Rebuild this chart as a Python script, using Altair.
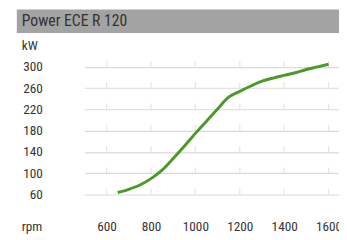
import altair as alt
import pandas as pd

rpm = [650, 700, 750, 800, 850, 900, 950, 1000, 1050, 1100, 1150, 1200, 1250, 1300, 1350, 1400, 1450, 1500, 1550, 1600]
kw = [64, 70, 78, 90, 106, 128, 151, 175, 198, 221, 243, 254, 264, 273, 279, 284, 289, 295, 300, 305]

x_ticks = [600, 800, 1000, 1200, 1400, 1600]
y_ticks = [60, 100, 140, 180, 220, 260, 300]

title_text = "Power ECE R 120"
y_unit = "kW"
x_unit = "rpm"

FONT = "'Roboto Condensed', 'Liberation Sans Narrow', Roboto, sans-serif"
TXT = "#333333"
GRID = "#dadada"

df = pd.DataFrame({"rpm": rpm, "kw": kw})
grid_df = pd.DataFrame([{"rpm": a, "kw": b} for a in x_ticks for b in y_ticks])
one = pd.DataFrame({"a": [0]})

xs = alt.Scale(domain=[500, 1647], nice=False, zero=False)
ys = alt.Scale(domain=[40, 316], nice=False, zero=False)

x_axis = alt.Axis(values=x_ticks, tickCount=20, title=None, grid=False, ticks=False, domain=False,
                  format="d", labelFont=FONT, labelFontSize=13.5, labelColor=TXT,
                  labelBaseline="middle", labelPadding=22, labelFlush=False, labelOverlap=False)
y_axis = alt.Axis(values=y_ticks, tickCount=20, title=None, grid=True, gridColor=GRID, gridWidth=1.2,
                  format="d", ticks=False, domain=False, labelFont=FONT, labelFontSize=13.5,
                  labelOverlap=False, labelColor=TXT, labelPadding=43, labelAlign="right",
                  labelBaseline="middle")

base_line = alt.Chart(df).mark_line(color="#4a9a2a", strokeWidth=3, interpolate="monotone",
                                    strokeCap="butt").encode(
    x=alt.X("rpm:Q", scale=xs, axis=x_axis),
    y=alt.Y("kw:Q", scale=ys, axis=y_axis),
)

vticks = alt.Chart(grid_df).mark_tick(orient="vertical", size=6, thickness=1.2,
                                      yOffset=-3, color=GRID).encode(
    x=alt.X("rpm:Q", scale=xs, axis=x_axis),
    y=alt.Y("kw:Q", scale=ys, axis=y_axis),
)

bar = alt.Chart(one).mark_rect(color="#a3a3a3", clip=False).encode(
    x=alt.value(-69), x2=alt.value(270), y=alt.value(-50), y2=alt.value(-26))

hdr = alt.Chart(one).mark_text(text=title_text, font=FONT, fontSize=16, color=TXT,
                               align="left", baseline="middle").encode(
    x=alt.value(-64), y=alt.value(-38))

kw_lbl = alt.Chart(one).mark_text(text=y_unit, font=FONT, fontSize=13.5, color=TXT,
                                  align="left", baseline="middle").encode(
    x=alt.value(-64), y=alt.value(-13))

rpm_lbl = alt.Chart(one).mark_text(text=x_unit, font=FONT, fontSize=13.5, color=TXT,
                                   align="left", baseline="middle").encode(
    x=alt.value(-64), y=alt.value(172))

chart = alt.layer(vticks, base_line, bar, hdr, kw_lbl, rpm_lbl).properties(
    width=260, height=150,
    autosize=alt.AutoSizeParams(type="none"),
    padding={"left": 78, "top": 49, "right": 0, "bottom": 30},
).configure_view(stroke=None)

chart.save("out.html", embed_options={"renderer": "svg", "actions": False})
